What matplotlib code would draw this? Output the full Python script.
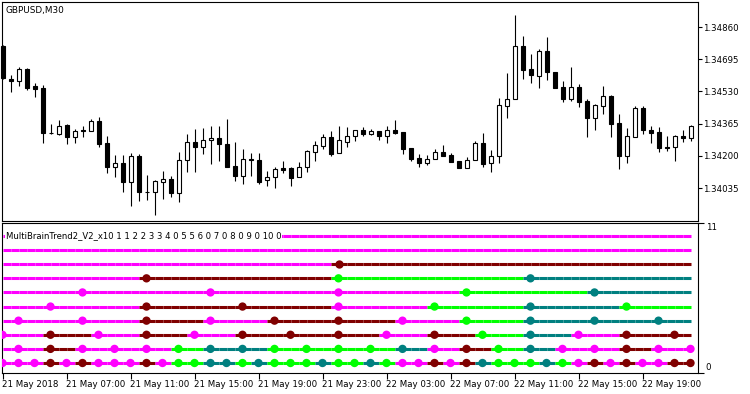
import numpy as np
import pandas as pd
import matplotlib
matplotlib.use("Agg")
import matplotlib.pyplot as plt
from matplotlib.collections import LineCollection
from matplotlib.transforms import blended_transform_factory

# GBPUSD M30 candles, first bar 21 May 2018 03:00
start_time = "2018-05-21 03:00"

open_ = [1.34763, 1.34596, 1.34585, 1.34645, 1.34558, 1.34546, 1.34317, 1.34314, 1.34358, 1.34295,
         1.34334, 1.34329, 1.34379, 1.34264, 1.34142, 1.34164, 1.34068, 1.34201, 1.34017, 1.34017,
         1.34068, 1.34082, 1.34009, 1.34179, 1.34270, 1.34244, 1.34280, 1.34293, 1.34261, 1.34150,
         1.34099, 1.34184, 1.34179, 1.34075, 1.34091, 1.34138, 1.34138, 1.34091, 1.34142, 1.34222,
         1.34252, 1.34297, 1.34216, 1.34273, 1.34300, 1.34331, 1.34314, 1.34326, 1.34303, 1.34331,
         1.34321, 1.34239, 1.34188, 1.34164, 1.34183, 1.34218, 1.34205, 1.34172, 1.34140, 1.34181,
         1.34264, 1.34162, 1.34200, 1.34457, 1.34490, 1.34763, 1.34645, 1.34611, 1.34737, 1.34631,
         1.34551, 1.34491, 1.34551, 1.34483, 1.34396, 1.34457, 1.34507, 1.34370, 1.34201, 1.34298,
         1.34447, 1.34333, 1.34321, 1.34247, 1.34244, 1.34302, 1.34292]
high = [1.34770, 1.34614, 1.34657, 1.34650, 1.34572, 1.34563, 1.34363, 1.34384, 1.34363, 1.34336,
        1.34353, 1.34389, 1.34401, 1.34302, 1.34205, 1.34205, 1.34215, 1.34208, 1.34102, 1.34077,
        1.34123, 1.34097, 1.34220, 1.34312, 1.34336, 1.34341, 1.34353, 1.34353, 1.34390, 1.34273,
        1.34234, 1.34213, 1.34216, 1.34124, 1.34145, 1.34174, 1.34145, 1.34170, 1.34230, 1.34278,
        1.34312, 1.34328, 1.34353, 1.34348, 1.34331, 1.34348, 1.34336, 1.34329, 1.34353, 1.34384,
        1.34321, 1.34239, 1.34208, 1.34203, 1.34234, 1.34256, 1.34213, 1.34172, 1.34193, 1.34276,
        1.34316, 1.34230, 1.34495, 1.34626, 1.34921, 1.34815, 1.34722, 1.34747, 1.34809, 1.34631,
        1.34584, 1.34657, 1.34568, 1.34490, 1.34466, 1.34558, 1.34510, 1.34415, 1.34341, 1.34457,
        1.34456, 1.34353, 1.34348, 1.34302, 1.34307, 1.34333, 1.34358]
low = [1.34594, 1.34529, 1.34560, 1.34537, 1.34503, 1.34268, 1.34311, 1.34307, 1.34259, 1.34268,
       1.34295, 1.34329, 1.34247, 1.34114, 1.34094, 1.34017, 1.33945, 1.33969, 1.33974, 1.33897,
       1.33979, 1.33988, 1.33966, 1.34116, 1.34119, 1.34210, 1.34159, 1.34174, 1.34145, 1.34073,
       1.34055, 1.34099, 1.34055, 1.34047, 1.34037, 1.34111, 1.34047, 1.34091, 1.34119, 1.34175,
       1.34234, 1.34201, 1.34213, 1.34247, 1.34278, 1.34303, 1.34307, 1.34281, 1.34268, 1.34314,
       1.34210, 1.34175, 1.34145, 1.34153, 1.34183, 1.34201, 1.34170, 1.34140, 1.34140, 1.34181,
       1.34145, 1.34119, 1.34165, 1.34396, 1.34490, 1.34594, 1.34575, 1.34549, 1.34589, 1.34546,
       1.34478, 1.34481, 1.34452, 1.34298, 1.34333, 1.34415, 1.34298, 1.34131, 1.34165, 1.34298,
       1.34311, 1.34264, 1.34222, 1.34227, 1.34175, 1.34270, 1.34278]
close = [1.34599, 1.34586, 1.34645, 1.34549, 1.34544, 1.34316, 1.34315, 1.34353, 1.34295, 1.34328,
         1.34326, 1.34379, 1.34261, 1.34142, 1.34162, 1.34068, 1.34201, 1.34017, 1.34016, 1.34072,
         1.34080, 1.34009, 1.34177, 1.34270, 1.34244, 1.34280, 1.34293, 1.34259, 1.34145, 1.34099,
         1.34184, 1.34179, 1.34068, 1.34091, 1.34133, 1.34128, 1.34088, 1.34143, 1.34225, 1.34254,
         1.34297, 1.34210, 1.34280, 1.34300, 1.34331, 1.34314, 1.34326, 1.34303, 1.34331, 1.34317,
         1.34237, 1.34186, 1.34164, 1.34183, 1.34218, 1.34201, 1.34170, 1.34140, 1.34181, 1.34264,
         1.34159, 1.34200, 1.34459, 1.34491, 1.34763, 1.34640, 1.34616, 1.34737, 1.34628, 1.34549,
         1.34491, 1.34551, 1.34478, 1.34396, 1.34459, 1.34507, 1.34365, 1.34201, 1.34302, 1.34444,
         1.34331, 1.34319, 1.34239, 1.34240, 1.34302, 1.34290, 1.34353]

price_ticks = [1.34860, 1.34695, 1.34530, 1.34365, 1.34200, 1.34035]
time_labels = ["21 May 2018", "21 May 07:00", "21 May 11:00", "21 May 15:00", "21 May 19:00",
               "21 May 23:00", "22 May 03:00", "22 May 07:00", "22 May 11:00", "22 May 15:00",
               "22 May 19:00"]

# indicator rows, bottom to top: timeframe and colour of each of its bars
# M = magenta, B = maroon, G = lime, T = teal
tf_names = ["1h", "2h", "3h", "4h", "6h", "8h", "12h", "1D", "W", "M"]
tf_colors = ["MMMBMBMMMBMGGTTGTGGGTGGTGMMBMBTGGGTGMBMBMMBB",
             "MMBMMMGTTGGGGTMBGTMMBMM",
             "MBMBMBBBMBGTMBB",
             "MMMBMBBMGTTT",
             "MMBBMGTG",
             "MMMMGT",
             "MBGT",
             "MB",
             "M",
             "M"]
palette = {"M": "#ff00ff", "B": "#800000", "G": "#00ff00", "T": "#008080"}
title = "MultiBrainTrend2_V2_x10 1 1 2 2 3 3 4 0 5 5 6 0 7 0 8 0 9 0 10 0"

plt.rcParams["font.family"] = "DejaVu Sans"
W, H = 750, 394
fig = plt.figure(figsize=(W / 100, H / 100), dpi=100)
ax = fig.add_axes([2 / W, 1 - 221 / H, 695.5 / W, 219 / H])
ax2 = fig.add_axes([2 / W, 1 - 372.5 / H, 695.5 / W, 149 / H])

x = np.arange(len(close))
o, hi, lo, c = map(np.array, (open_, high, low, close))
up = c > o

# candles
ax.vlines(x, lo, hi, color="black", lw=0.8, zorder=1)
ax.bar(x, np.abs(c - o), width=0.5, bottom=np.minimum(o, c),
       color=np.where(up, "white", "black"), edgecolor="black", linewidth=0.8,
       zorder=2, clip_on=False)
ax.set_xlim(-0.0625, 86.875)
ax.set_ylim(1.33867, 1.34988)
ax.set_xticks([])
ax.yaxis.tick_right()
ax.set_yticks(price_ticks)
ax.set_yticklabels([f"{p:.5f}" for p in price_ticks])
ax.tick_params(axis="y", direction="out", length=3, width=0.8, pad=1, labelsize=6.2)
ax.text(4 / 695.5, 1 - 8 / 219, "GBPUSD,M30", transform=ax.transAxes,
        ha="left", va="center", fontsize=6.4)

# indicator
times = pd.date_range(start_time, periods=len(close), freq="30min")


def bar_starts(tf):
    if tf in ("W", "M"):
        return times.to_period(tf).start_time
    return times.floor(tf)


for i, (tf, cols) in enumerate(zip(tf_names, tf_colors)):
    row = i + 1
    starts = bar_starts(tf)
    codes = pd.factorize(starts)[0]
    bar_cols = np.array([palette[ch] for ch in cols])[codes]
    segs = [[(k - 1, row), (k, row)] for k in x[1:]]
    ax2.add_collection(LineCollection(segs, colors=bar_cols[1:], linewidths=2.2,
                                      capstyle="butt", zorder=2))
    dots = np.asarray(times == starts)
    ax2.scatter(x[dots], np.full(dots.sum(), row), s=36, c=bar_cols[dots],
                linewidths=0, zorder=3)

y_lo = 1 - (372.5 - 363) / 14.11
y_hi = 10 + (236 - 223.5) / 14.11
ax2.set_xlim(-0.0625, 86.875)
ax2.set_ylim(y_lo, y_hi)
trans = blended_transform_factory(ax2.transAxes, ax2.transData)
ax2.text(3.5 / 695.5, 10, title, transform=trans, ha="left", va="center",
         fontsize=6.1, zorder=5,
         bbox=dict(facecolor="white", edgecolor="none", pad=0.6))

ax2.yaxis.tick_right()
ax2.set_yticks([y_lo, y_hi])
ax2.set_yticklabels(["0", "11"])
for lbl, va in zip(ax2.get_yticklabels(), ["bottom", "top"]):
    lbl.set_verticalalignment(va)
ax2.tick_params(axis="y", direction="out", length=4, width=0.8, pad=2, labelsize=6.2)

ax2.set_xticks(x[::8])
ax2.set_xticklabels(time_labels, ha="left")
ax2.tick_params(axis="x", direction="out", length=4, width=0.8, pad=1.5, labelsize=6.2)

for a in (ax, ax2):
    for s in a.spines.values():
        s.set_linewidth(0.8)

fig.savefig("out.png", dpi=100)
